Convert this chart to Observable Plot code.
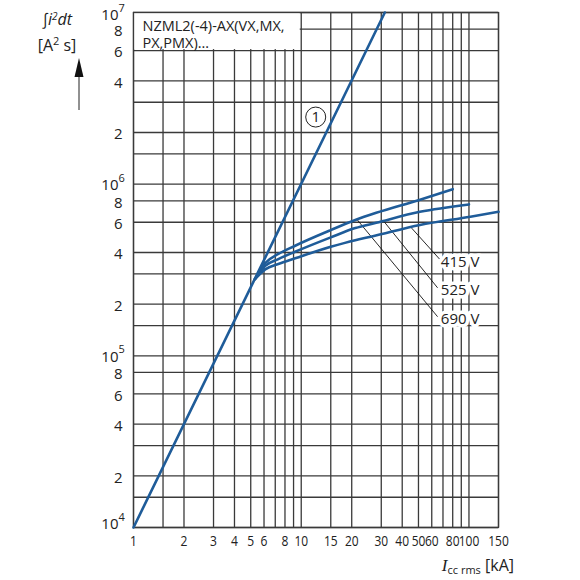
<!DOCTYPE html>
<html><head><meta charset="utf-8">
<script src="https://cdn.jsdelivr.net/npm/d3@7"></script>
<script src="https://cdn.jsdelivr.net/npm/@observablehq/plot@0.6"></script>
<style>body{margin:0;background:#fff} #chart{width:580px;height:580px}</style>
</head><body><div id="chart"></div>
<script>
const FONT = '"Open Sans",sans-serif';
const BLUE = "#1f5c99";
const GRID = "#3a3a3a";
const XTICK_INK = "#212121";

// axes / grid
const xTicks = [1,2,3,4,5,6,8,10,15,20,30,40,50,60,80,100,150];
const xGrid = [1,1.5,2,3,4,5,6,7,8,9,10,15,20,30,40,50,60,70,80,90,100,150];
const yGrid = [1e4,1.5e4,2e4,3e4,4e4,6e4,8e4,1e5,1.5e5,2e5,3e5,4e5,6e5,8e5,1e6,1.5e6,2e6,3e6,4e6,6e6,8e6,1e7];
const yDigitTicks = [2e4,4e4,6e4,8e4,2e5,4e5,6e5,8e5,2e6,4e6,6e6,8e6];
const yDigitLabels = ["2","4","6","8","2","4","6","8","2","4","6","8"];
const yDecades = [1e4,1e5,1e6,1e7];
const yDecadeExp = ["4","5","6","7"];

// curve (1): straight characteristic
const line1X = [1, 31.5];
const line1Y = [1e4, 1e7];

// voltage curves
const curveX690 = [5.3,6.1,7.3,9.2,15,21,28,50,80];
const curveY690 = [2.8e5,3.47e5,3.92e5,4.38e5,5.4e5,6.18e5,6.81e5,8.07e5,9.35e5];
const curveX525 = [5.3,6.1,7.3,9.2,15,21,28,51,100];
const curveY525 = [2.8e5,3.34e5,3.66e5,4.04e5,4.9e5,5.55e5,5.96e5,6.9e5,7.62e5];
const curveX415 = [5.3,6.1,7.3,9.2,15,21,26,51,102,150];
const curveY415 = [2.8e5,3.19e5,3.43e5,3.7e5,4.32e5,4.72e5,4.94e5,5.78e5,6.46e5,6.9e5];

// labels and leaders
const voltLabels = ["415 V","525 V","690 V"];
const labelY = [3.52e5,2.42e5,1.64e5];
const labelX = 68;
const leaderX1 = [45.5,31.4,21.4];
const leaderY1 = [5.55e5,6.0e5,6.26e5];
const leaderX2 = [66.8,65,65];
const leaderY2 = [3.66e5,2.49e5,1.69e5];
const circleLabel = "1";
const circleX = 12.2, circleY = 2.46e6;
const titleText = "NZML2(-4)-AX(VX,MX,\nPX,PMX)…";

const toPts = (xs, ys, s) => xs.map((x,i)=>({x, y: ys[i], s}));
const curves = [
  ...toPts(curveX690, curveY690, "690"),
  ...toPts(curveX525, curveY525, "525"),
  ...toPts(curveX415, curveY415, "415")
];
const line1 = toPts(line1X, line1Y, "1");
const leaders = voltLabels.map((t,i)=>({x1:leaderX1[i],y1:leaderY1[i],x2:leaderX2[i],y2:leaderY2[i]}));
const labels = voltLabels.map((t,i)=>({t, x: labelX, y: labelY[i]}));
const decadeRows = yDecades.map((v,i)=>({v, e: yDecadeExp[i]}));
const decTop = decadeRows.filter(d => d.v === 1e7);
const decMid = decadeRows.filter(d => d.v !== 1e7 && d.v !== 1e4);
const decBot = decadeRows.filter(d => d.v === 1e4);
const decMarks = (rows, dy) => [
  Plot.text(rows, {y: "v", frameAnchor:"left", dx: -15, dy: dy, textAnchor:"end", fontSize: 15, fill:"#222", text: () => "10"}),
  Plot.text(rows, {y: "v", frameAnchor:"left", dx: -15, dy: dy - 7, textAnchor:"start", fontSize: 11, fill:"#222", text: "e"})
];

const plot = Plot.plot({
  width: 580, height: 580,
  marginLeft: 133, marginRight: 82, marginTop: 12, marginBottom: 53,
  style: {fontFamily: FONT, background: "white"},
  x: {type: "log", domain: [1,150], axis: null},
  y: {type: "log", domain: [1e4,1e7], axis: null},
  marks: [
    Plot.ruleX(xGrid, {stroke: GRID, strokeWidth: 1.3}),
    Plot.ruleY(yGrid, {stroke: GRID, strokeWidth: 1.3}),
    Plot.rect([0], {x1: () => 1, x2: () => 10, y1: () => 6e6, y2: () => 1e7, fill: "white", inset: 1}),
    Plot.frame({stroke: GRID, strokeWidth: 1.3}),
    Plot.link(leaders, {x1:"x1", y1:"y1", x2:"x2", y2:"y2", stroke: "#111", strokeWidth: 0.9}),
    Plot.line(curves, {x:"x", y:"y", z:"s", stroke: BLUE, strokeWidth: 2.6, curve: "monotone-x"}),
    Plot.line(line1, {x:"x", y:"y", stroke: BLUE, strokeWidth: 2.6}),
    Plot.text(labels, {x:"x", y:"y", text:"t", textAnchor:"start", fontSize: 15, fill:"#222", stroke:"white", strokeWidth: 7, paintOrder:"stroke"}),
    Plot.dot([{x:circleX, y:circleY}], {x:"x", y:"y", r: 10, stroke:"#222", strokeWidth: 1, fill:"white"}),
    Plot.text([{x:circleX, y:circleY}], {x:"x", y:"y", text: () => circleLabel, fontSize: 15, fill:"#222"}),
    Plot.text([titleText], {frameAnchor:"top-left", dx: 9, dy: 7, lineAnchor:"top", textAnchor:"start", fontSize: 14.5, lineHeight: 1.16, fill:"#222"}),
    // x tick labels
    Plot.text(xTicks, {x: d=>d, frameAnchor:"bottom", dy: 18, fontSize: 15, fill: XTICK_INK, text: d=>String(d)}),
    // y tick labels
    Plot.text(yDigitTicks, {y: d=>d, frameAnchor:"left", dx: -11, dy: 2, textAnchor:"end", fontSize: 15, fill:"#222", text: (d,i)=>yDigitLabels[i]}),
    ...decMarks(decTop, 3),
    ...decMarks(decMid, 1),
    ...decMarks(decBot, -3)
  ]
});
document.getElementById("chart").appendChild(plot);

// condense the x tick labels to mimic the narrow typeface of the original
d3.select(plot).selectAll(`g[fill="${XTICK_INK}"] text`).each(function() {
  const w = this.getComputedTextLength();
  if (w > 0) {
    this.setAttribute("textLength", (w * 0.8).toFixed(1));
    this.setAttribute("lengthAdjust", "spacingAndGlyphs");
  }
});

// axis titles (annotation)
const svg = d3.select(plot);
const g = svg.append("g").attr("fill","#222").style("font-family", FONT);
const t1 = g.append("text").attr("x",57).attr("y",25).attr("font-size",16).attr("font-style","italic");
t1.append("tspan").text("∫i");
t1.append("tspan").attr("font-size",10).attr("dy",-5).text("2");
t1.append("tspan").attr("dy",5).text("dt");
const t2 = g.append("text").attr("x",57).attr("y",51).attr("font-size",16);
t2.append("tspan").text("[A");
t2.append("tspan").attr("font-size",11).attr("dy",-6).text("2");
t2.append("tspan").attr("dy",6).text(" s]");
g.append("line").attr("x1",79).attr("x2",79).attr("y1",110).attr("y2",72).attr("stroke","#222").attr("stroke-width",1);
g.append("polygon").attr("points","79,58 74.5,77 83.5,77").attr("fill","#111");
const t3 = g.append("text").attr("x",514).attr("y",571).attr("text-anchor","end").attr("font-size",16);
t3.append("tspan").attr("font-family","'Liberation Serif',serif").attr("font-style","italic").attr("font-size",17).text("I");
t3.append("tspan").attr("font-size",11).attr("dy",3).text("cc rms");
t3.append("tspan").attr("dy",-3).text(" [kA]");
</script>
</body></html>
